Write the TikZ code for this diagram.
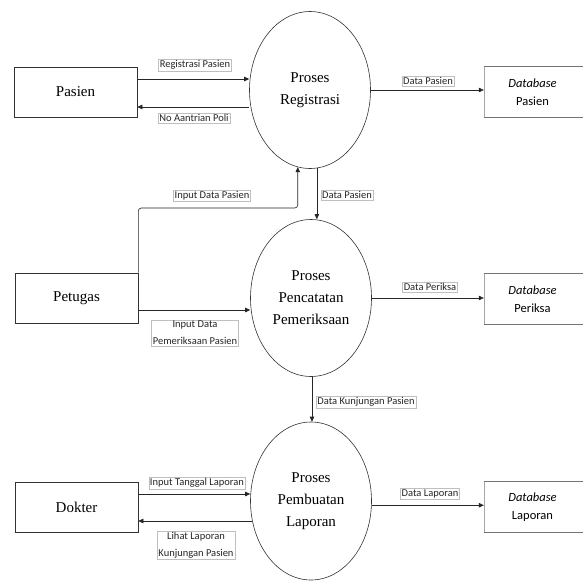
\documentclass[tikz,border=0pt]{standalone}
\usepackage{fontspec}
\setmainfont{Liberation Serif}
\newfontfamily\lblfont{Carlito}
\usetikzlibrary{shapes.geometric,arrows.meta}
\begin{document}
\begin{tikzpicture}[x=1pt,y=-1pt,
  entity/.style={draw=black!80,line width=0.6pt,rectangle,inner sep=0pt,minimum width=123pt,minimum height=50pt,font=\fontsize{15}{18}\selectfont},
  proc/.style={draw=black!80,line width=0.6pt,ellipse,inner sep=0pt,minimum width=121pt,minimum height=157pt,align=center,font=\fontsize{15}{22}\selectfont},
  store/.style={rectangle,inner sep=0pt,minimum width=97pt,minimum height=50pt,align=center,font=\lblfont\fontsize{12.5}{18}\selectfont},
  lbl/.style={draw=black!25,line width=0.4pt,inner sep=1.2pt,align=center,font=\lblfont\fontsize{10.5}{16}\selectfont,text=black!85},
  arr/.style={-{Triangle[length=5pt,width=4.5pt]},line width=0.6pt,black!85},
  ln/.style={line width=0.6pt,black!85}]
\useasboundingbox (0,0) rectangle (583,581);
\fill[white] (0,0) rectangle (583,581);

% entities
\node[entity] (pasien) at (75.5,92) {Pasien};
\node[entity] (petugas) at (76.5,298) {Petugas};
\node[entity] (dokter) at (76.5,507) {Dokter};

% processes
\node[proc] (p1) at (310,90) {Proses\\Registrasi};
\node[proc] (p2) at (311,298) {Proses\\Pencatatan\\Pemeriksaan};
\node[proc,minimum height=158pt] (p3) at (311,501) {Proses\\Pembuatan\\Laporan};

% data stores
\node[store] (db1) at (532.5,92) {\textit{Database}\\Pasien};
\node[store] (db2) at (532.5,299) {\textit{Database}\\Periksa};
\node[store] (db3) at (532.5,507) {\textit{Database}\\Laporan};
\foreach \d in {db1,db2,db3}{
  \draw[black!55,line width=1pt] ([xshift=0.5pt]\d.north west) -- ([xshift=2pt]\d.north east);
  \draw[black!55,line width=1pt] ([xshift=0.5pt]\d.south west) -- ([xshift=2pt]\d.south east);
  \draw[black!35,line width=0.5pt] (\d.north west) -- (\d.south west);
}

% Pasien <-> Proses Registrasi
\path ([yshift=13pt]pasien.east) coordinate (r1);
\draw[arr] (r1) -- (r1 -| p1.west);
\path ([yshift=-15pt]pasien.east) coordinate (r2);
\draw[arr] (r2 -| p1.west) -- (r2);
\node[lbl] (l1) at (195,65) {Registrasi Pasien};
\node[lbl] (l2) at (194,118) {No Aantrian Poli};

% Proses Registrasi -> Database Pasien
\draw[arr] (p1.east) -- (p1.east -| db1.west);
\node[lbl] (l3) at (428,81) {Data Pasien};

% Petugas -> Proses Registrasi
\coordinate (c1) at (petugas.north east);
\draw[arr,rounded corners=3pt] (c1) -- (c1 |- 0,208) -- (p1.261.8 |- 0,208) -- (p1.261.8);
\node[lbl] (l4) at (212,196) {Input Data Pasien};

% Proses Registrasi -> Proses Pencatatan
\draw[arr] (p1.275.2) -- (p1.275.2 |- p2.north);
\node[lbl] (l5) at (347,195) {Data Pasien};

% Petugas -> Proses Pencatatan
\path ([yshift=-12pt]petugas.east) coordinate (r3);
\draw[arr] (r3) -- (r3 -| p2.west);
\node[lbl,font=\lblfont\fontsize{10.5}{17}\selectfont] (l6) at (195,333) {Input Data\\Pemeriksaan Pasien};

% Proses Pencatatan -> Database Periksa
\draw[arr] (p2.east) -- (p2.east -| db2.west);
\node[lbl] (l7) at (430,287) {Data Periksa};

% Proses Pencatatan -> Proses Pembuatan
\draw[arr] ([xshift=1pt]p2.south) -- ([xshift=1pt]p3.north);
\node[lbl] (l8) at (366,402) {Data Kunjungan Pasien};

% Dokter <-> Proses Pembuatan
\path ([yshift=13pt]dokter.east) coordinate (r4);
\draw[arr] (r4) -- (r4 -| p3.west);
\path ([yshift=-14pt]dokter.east) coordinate (r5);
\draw[arr] (r5 -| p3.199) -- (r5);
\node[lbl] (l9) at (197,483) {Input Tanggal Laporan};
\node[lbl,font=\lblfont\fontsize{10.5}{17}\selectfont] (l10) at (196,545) {Lihat Laporan\\Kunjungan Pasien};

% Proses Pembuatan -> Database Laporan
\draw[arr] (p3.-4.7) -- (p3.-4.7 -| db3.west);
\node[lbl] (l11) at (430,494) {Data Laporan};
\end{tikzpicture}
\end{document}
